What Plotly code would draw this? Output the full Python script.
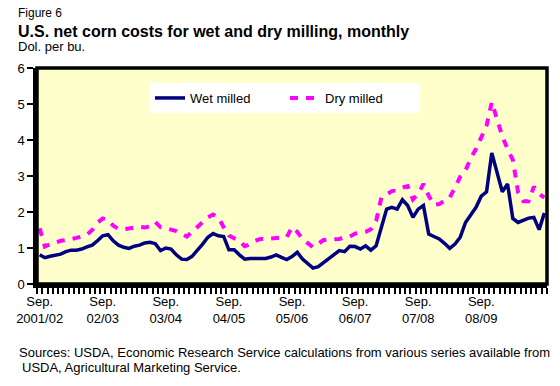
import plotly.graph_objects as go
import pandas as pd

months = pd.date_range("2001-09-01", periods=97, freq="MS").strftime("%Y-%m").tolist()
month_index = list(range(len(months)))

wet_milled = [0.81, 0.73, 0.77, 0.79, 0.83, 0.90, 0.94, 0.94, 0.97, 1.03,
              1.08, 1.20, 1.34, 1.37, 1.20, 1.08, 1.02, 0.99, 1.05, 1.08,
              1.14, 1.16, 1.12, 0.93, 1.00, 0.97, 0.81, 0.69, 0.68, 0.77,
              0.93, 1.11, 1.30, 1.40, 1.34, 1.32, 0.95, 0.95, 0.81, 0.69,
              0.71, 0.71, 0.69, 0.71, 0.75, 0.81, 0.74, 0.68, 0.76, 0.88,
              0.69, 0.58, 0.44, 0.48, 0.60, 0.71, 0.83, 0.93, 0.90, 1.05,
              1.04, 0.97, 1.06, 0.94, 1.06, 1.53, 2.08, 2.13, 2.08, 2.34,
              2.18, 1.85, 2.08, 2.18, 1.39, 1.32, 1.25, 1.13, 0.99, 1.11,
              1.30, 1.71, 1.94, 2.13, 2.44, 2.56, 3.64, 3.06, 2.56, 2.78,
              1.82, 1.71, 1.76, 1.83, 1.85, 1.51, 1.97]

dry_milled = [1.55, 1.04, 1.10, 1.15, 1.20, 1.22, 1.24, 1.28, 1.32, 1.37,
              1.50, 1.70, 1.82, 1.78, 1.62, 1.53, 1.52, 1.55, 1.57, 1.59,
              1.57, 1.60, 1.72, 1.58, 1.55, 1.52, 1.47, 1.40, 1.32, 1.45,
              1.58, 1.72, 1.85, 1.93, 1.85, 1.58, 1.35, 1.27, 1.20, 1.05,
              1.10, 1.20, 1.25, 1.25, 1.26, 1.28, 1.30, 1.30, 1.58, 1.45,
              1.25, 1.12, 1.02, 1.12, 1.22, 1.23, 1.25, 1.25, 1.30, 1.32,
              1.40, 1.43, 1.45, 1.52, 1.75, 2.40, 2.50, 2.58, 2.60, 2.68,
              2.72, 2.35, 2.50, 2.78, 2.45, 2.20, 2.22, 2.30, 2.40, 2.68,
              2.98, 3.15, 3.50, 3.75, 4.08, 4.40, 5.05, 4.55, 4.10, 3.75,
              3.45, 2.55, 2.30, 2.30, 2.70, 2.50, 2.40]

tick_positions = [0, 12, 24, 36, 48, 60, 72, 84]
tick_labels = ["Sep.<br>2001/02", "Sep.<br>02/03", "Sep.<br>03/04", "Sep.<br>04/05",
               "Sep.<br>05/06", "Sep.<br>06/07", "Sep.<br>07/08", "Sep.<br>08/09"]
y_ticks = [0, 1, 2, 3, 4, 5, 6]
month_boundaries = [i - 0.5 for i in range(len(months) + 1)]

FONT = "Arial, Liberation Sans, sans-serif"

W, H = 560, 386
pl, pr, pt, pb = 37, 13, 68, 102
pw, ph = W - pl - pr, H - pt - pb

def px2paper(xp, yp):
    return (xp - pl) / pw, (H - pb - yp) / ph

fig = go.Figure()
# invisible carrier trace so the month-boundary tick axis gets drawn
fig.add_trace(go.Scatter(x=month_index, y=[None] * len(month_index), xaxis="x2",
                         mode="lines", showlegend=False, hoverinfo="skip"))
fig.add_trace(go.Scatter(x=month_index, y=wet_milled, mode="lines", name="Wet milled",
                         line=dict(color="#000080", width=3.5)))
fig.add_trace(go.Scatter(x=month_index, y=dry_milled, mode="lines", name="Dry milled",
                         line=dict(color="#FF00FF", width=4, dash="8px,8px")))

lx, ly = px2paper(150, 83)
xrange_ = [-0.5, len(months) - 0.5]

fig.update_layout(
    width=W, height=H,
    margin=dict(l=pl, r=pr, t=pt, b=pb),
    paper_bgcolor="white",
    plot_bgcolor="#FFFFCC",
    font=dict(family=FONT, size=13, color="#000000"),
    showlegend=True,
    legend=dict(orientation="h", x=lx, y=ly, xanchor="left", yanchor="top",
                bgcolor="white", borderwidth=0, font=dict(size=13),
                entrywidth=90, tracegroupgap=0),
    xaxis=dict(range=xrange_, tickmode="array", tickvals=tick_positions,
               ticktext=tick_labels, ticks="", showgrid=False, zeroline=False,
               showline=False, tickfont=dict(size=13), automargin=False,
               ticklabelstandoff=8),
    xaxis2=dict(range=xrange_, overlaying="x", anchor="y", side="bottom",
                tickmode="array", tickvals=month_boundaries,
                ticks="outside", ticklen=6, tickcolor="#000000", tickwidth=1.5,
                showgrid=False, zeroline=False, showline=True, linecolor="black",
                linewidth=3.5, automargin=False, showticklabels=False),
    yaxis=dict(range=[0, 6], tickvals=y_ticks, ticks="outside", ticklen=6,
               tickcolor="#000000", tickwidth=1.5, showgrid=False, zeroline=False,
               showline=True, linecolor="black", linewidth=3.5,
               tickfont=dict(size=13), automargin=False),
    shapes=[dict(type="rect", xref="paper", yref="paper", x0=0, x1=1, y0=0, y1=1,
                 line=dict(color="black", width=3.5), layer="above")],
)

texts = [
    ("Figure 6", 16, 13, 12),
    ("<b>U.S. net corn costs for wet and dry milling, monthly</b>", 16, 31, 16),
    ("Dol. per bu.", 16, 47, 13),
    ("Sources: USDA, Economic Research Service calculations from various series available from", 17, 352, 13),
    ("USDA, Agricultural Marketing Service.", 20, 367, 13),
]
anns = []
for t, xp, yp, size in texts:
    xx, yy = px2paper(xp, yp)
    anns.append(dict(text=t, x=xx, y=yy, xref="paper", yref="paper", showarrow=False,
                     xanchor="left", yanchor="middle", align="left",
                     font=dict(size=size, family=FONT, color="#000000")))
fig.update_layout(annotations=anns)

fig.write_html("out.html", config={"displayModeBar": False},
               post_script="document.body.style.margin='0';document.body.style.padding='0';")
